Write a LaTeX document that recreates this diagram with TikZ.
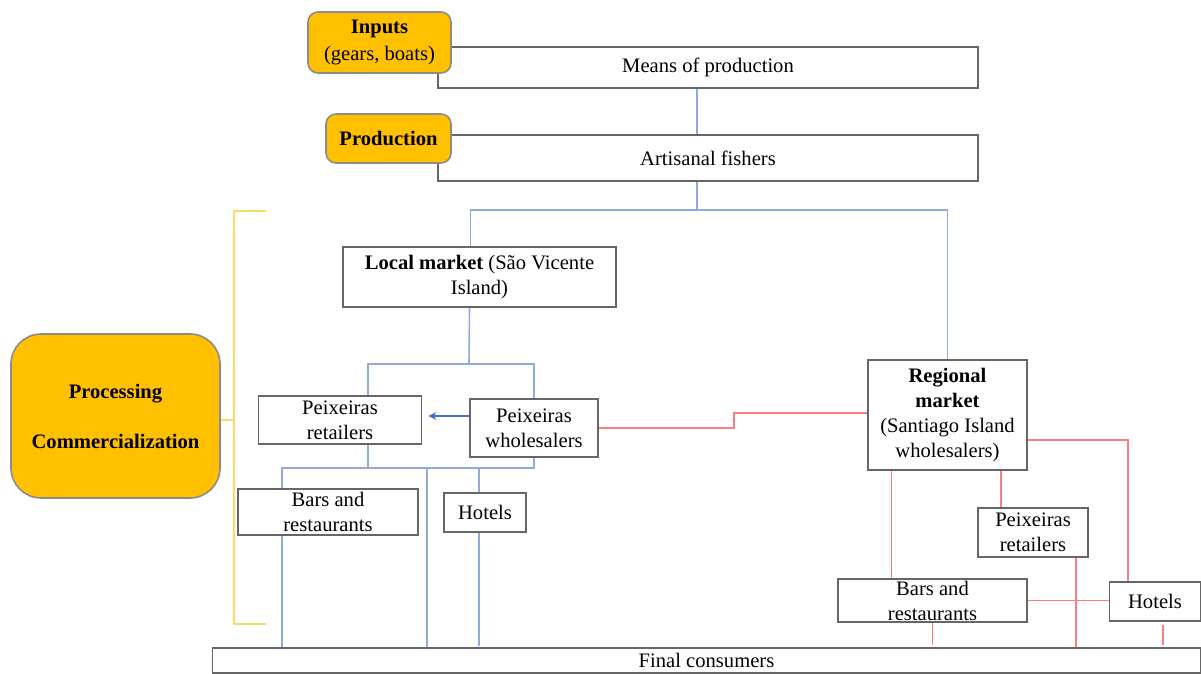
\documentclass[tikz,border=0pt]{standalone}
\usepackage{fontspec}
\setmainfont{Liberation Serif}
\usetikzlibrary{arrows.meta, positioning, calc, backgrounds}

\definecolor{stageorange}{HTML}{FFC000}
\definecolor{flowblue}{HTML}{8FAADC}
\definecolor{arrowblue}{HTML}{4472C4}
\definecolor{flowred}{HTML}{FF7C80}
\definecolor{bracketyellow}{HTML}{FFD966}

\begin{document}
\begin{tikzpicture}[
    x=0.5pt, y=-0.5pt,
    actor/.style={rectangle, draw=black!60, line width=0.8pt, fill=white, inner sep=0pt, align=center, font=\fontsize{10.3}{12.5}\selectfont},
    stage/.style={actor, fill=stageorange, draw=black!45, rounded corners=5pt},
    blueflow/.style={draw=flowblue, line width=0.8pt},
    redflow/.style={draw=flowred, line width=0.8pt},
    bluearrow/.style={-{Stealth[length=4pt, width=4pt]}, draw=arrowblue, line width=0.6pt, shorten >=3pt},
    bracket/.style={draw=bracketyellow, line width=0.7pt}
]
    \useasboundingbox (0,0) rectangle (1201,674);

    % Define Nodes
    \node[actor, minimum width=270pt, minimum height=20.5pt] (means) at (708,67.5) {Means of production};
    \node[stage, minimum width=71.5pt, minimum height=30.5pt] (inputs) at (379.5,42.5) {\textbf{Inputs}\\[1pt](gears, boats)};
    \node[actor, minimum width=270pt, minimum height=23pt] (fishers) at (708,158) {Artisanal fishers};
    \node[stage, minimum width=62.5pt, minimum height=24.5pt] (production) at (388.5,138.5) {\textbf{Production}};
    \node[stage, rounded corners=15pt, minimum width=104.5pt, minimum height=82pt] (processing) at (115.5,416) {\textbf{Processing}\\[12.5pt]\textbf{Commercialization}};

    \node[actor, minimum width=136.5pt, minimum height=30pt] (local) at (479.5,277) {\textbf{Local market} (São Vicente\\Island)};
    \node[actor, minimum width=81.5pt, minimum height=24pt] (retailL) at (340,420) {Peixeiras\\retailers};
    \node[actor, minimum width=64pt, minimum height=29pt] (wholeL) at (534,428) {Peixeiras\\wholesalers};
    \node[actor, minimum width=90pt, minimum height=23pt] (barsL) at (328,512) {Bars and\\restaurants};
    \node[actor, minimum width=41pt, minimum height=19.5pt] (hotelsL) at (485,512.5) {Hotels};

    \node[actor, minimum width=79.5pt, minimum height=55pt] (regional) at (947.5,415) {\textbf{Regional}\\\textbf{market}\\(Santiago Island\\wholesalers)};
    \node[actor, minimum width=55pt, minimum height=24.5pt] (retailR) at (1033,532.5) {Peixeiras\\retailers};
    \node[actor, minimum width=94.5pt, minimum height=21.5pt] (barsR) at (932.5,600.5) {Bars and\\restaurants};
    \node[actor, minimum width=45.5pt, minimum height=19.5pt] (hotelsR) at (1155,601.5) {Hotels};

    \node[actor, minimum width=494pt, minimum height=12.5pt] (final) at (706.5,660.5) {Final consumers};

    \coordinate (split) at (697,210);
    \coordinate (localsplit) at (469,364);
    \coordinate (localjoin) at (427,468);
    \coordinate (redstep) at (734,413);
    \coordinate (brace) at (234,420);

    % Draw Edges
    \begin{scope}[on background layer]
        \draw[blueflow] ([xshift=-5.5pt]means.south) -- ([xshift=-5.5pt]fishers.north);
        \draw[blueflow] ([xshift=-5.5pt]fishers.south) -- (split);
        \draw[blueflow] ([xshift=-4.5pt]local.north) |- (split) -| (regional.north);

        \draw[blueflow] ([xshift=-5pt]local.south) -- (localsplit);
        \draw[blueflow] ([xshift=14pt]retailL.north) |- (localsplit) -| (wholeL.north);
        \draw[blueflow] ([xshift=-23pt]barsL.north) |- (localjoin) -| (wholeL.south);
        \draw[blueflow] ([xshift=14pt]retailL.south) -- ([xshift=14pt]retailL.south |- localjoin);
        \draw[blueflow] ([xshift=-3pt]hotelsL.north) -- ([xshift=-3pt]hotelsL.north |- localjoin);
        \draw[blueflow] (localjoin) -- (localjoin |- final.north);
        \draw[blueflow] ([xshift=-23pt]barsL.south) -- ([xshift=-23pt]barsL.south |- final.north);
        \draw[blueflow] ([xshift=-3pt]hotelsL.south) -- ++(0,113);

        \draw[redflow] (wholeL.east) -| (redstep) -- (redstep -| regional.west);
        \draw[redflow] ([yshift=-12.5pt]regional.east) -| ([xshift=-13.5pt]hotelsR.north);
        \draw[redflow] ([xshift=-28pt]regional.south) -- ([xshift=-28pt]regional.south |- barsR.north);
        \draw[redflow] ([xshift=-16pt]retailR.north) -- ([xshift=-16pt]retailR.north |- regional.south);
        \draw[redflow] ([xshift=21.5pt]retailR.south) -- ([xshift=21.5pt]retailR.south |- final.north);
        \draw[redflow] (barsR.east) -- (barsR.east -| hotelsR.west);
        \draw[redflow] (barsR.south) -- ++(0,22);
        \draw[redflow] ([xshift=4pt,yshift=-1.5pt]hotelsR.south) -- ++(0,20);

        \draw[bracket] (266,211) -| (234,624) -- (266,624);
        \draw[bracket] (processing.east |- brace) -- (brace);
    \end{scope}

    \draw[bluearrow] ([yshift=6pt]wholeL.west) -- ([yshift=2pt]retailL.east);
\end{tikzpicture}
\end{document}
